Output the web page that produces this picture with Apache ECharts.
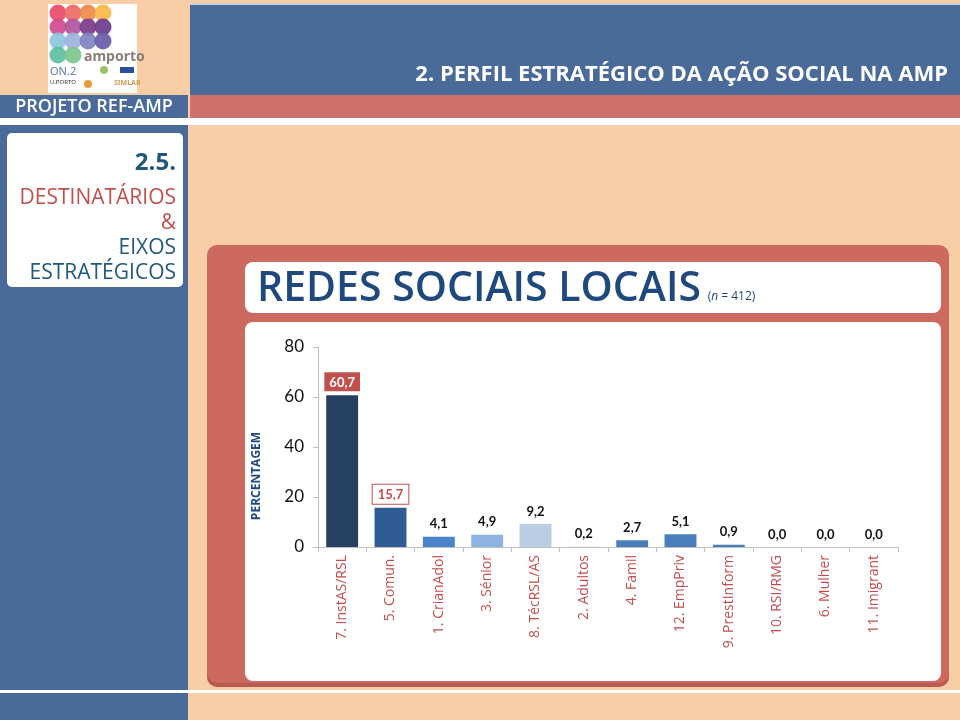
<!DOCTYPE html>
<html><head><meta charset="utf-8">
<script src="https://cdn.jsdelivr.net/npm/echarts@6/dist/echarts.min.js"></script>
<style>html,body{margin:0;padding:0;background:#F9CDA6}#c{width:960px;height:720px}</style>
</head><body><div id="c"></div>
<script>
const categories = ['7. InstAS/RSL','5. Comun.','1. CrianAdol','3. Sénior','8. TécRSL/AS','2. Adultos','4. Famil','12. EmpPriv','9. PrestInform','10. RSI/RMG','6. Mulher','11. Imigrant'];
const values = [60.7, 15.7, 4.1, 4.9, 9.2, 0.2, 2.7, 5.1, 0.9, 0.0, 0.0, 0.0];
const yTicks = [0, 20, 40, 60, 80];
const barColors = ['#243F60','#2F5D93','#4A85C9','#8DB3E2','#B9CDE5','#DCE6F2','#4A7EBB','#4A7EBB','#4A7EBB','#4A7EBB','#4A7EBB','#4A7EBB'];

const fmt = v => v.toFixed(1).replace('.', ',');
const BLUE = '#4A6B99', RED = '#CD716D', PEACH = '#F9CDA6';

const data = values.map((v, i) => {
  const d = { value: v, itemStyle: { color: barColors[i] } };
  if (i === 0) d.label = { backgroundColor: '#C0504D', color: '#fff', padding: [4, 5, 2, 5], distance: 4 };
  if (i === 1) d.label = { backgroundColor: '#fff', borderColor: '#C0504D', borderWidth: 1, color: '#C0504D', padding: [4, 5, 2, 5], distance: 4 };
  return d;
});

const circleColors = [
  ['#E84A6A','#EE6B63','#F08A4B','#F6B84A'],
  ['#D14A8E','#B0569E','#7C3A8B','#6A3C8C'],
  ['#8CC6DD','#9EB2DC','#7F82C0','#6A5BA8'],
  ['#5DBFA3','#7DC58A', null, null]
];
const logoEls = [];
logoEls.push({ type: 'rect', shape: { x: 48, y: 4, width: 89, height: 89 }, style: { fill: '#fff' }, z: 1 });
circleColors.forEach((row, r) => row.forEach((c, k) => {
  if (c) logoEls.push({ type: 'circle', shape: { cx: 58 + k * 15, cy: 13 + r * 14, r: 8.5 }, style: { fill: c, opacity: 0.92 }, z: 1 });
}));
logoEls.push({ type: 'text', style: { x: 84, y: 57, text: 'amporto', fill: '#8A7E78', font: 'bold 14px "Noto Sans"', textVerticalAlign: 'middle' }, z: 2 });
logoEls.push({ type: 'text', style: { x: 50, y: 72, text: 'ON.2', fill: '#5A7FA8', font: '11px "Noto Sans"', textVerticalAlign: 'middle' }, z: 2 });
logoEls.push({ type: 'circle', shape: { cx: 104, cy: 70, r: 4 }, style: { fill: '#9BC46A' }, z: 2 });
logoEls.push({ type: 'rect', shape: { x: 120, y: 67, width: 14, height: 6 }, style: { fill: '#2F4E9E' }, z: 2 });
logoEls.push({ type: 'text', style: { x: 50, y: 82, text: 'U.PORTO', fill: '#333', font: '6px "Noto Sans"', textVerticalAlign: 'middle' }, z: 2 });
logoEls.push({ type: 'circle', shape: { cx: 88, cy: 84, r: 4 }, style: { fill: '#E59A3A' }, z: 2 });
logoEls.push({ type: 'text', style: { x: 114, y: 83, text: 'SIMLAB', fill: '#C7A056', font: 'bold 7px "Noto Sans"', textVerticalAlign: 'middle' }, z: 2 });

const bg = [
  { type: 'rect', shape: { x: 0, y: 0, width: 960, height: 720 }, style: { fill: PEACH }, z: 0 },
  { type: 'rect', shape: { x: 190, y: 3, width: 770, height: 2 }, style: { fill: '#C9D3E0' }, z: 0 },
  { type: 'rect', shape: { x: 190, y: 5, width: 770, height: 90 }, style: { fill: BLUE }, z: 0 },
  { type: 'rect', shape: { x: 190, y: 95, width: 770, height: 23 }, style: { fill: RED }, z: 0 },
  { type: 'rect', shape: { x: 0, y: 95, width: 188, height: 23 }, style: { fill: BLUE }, z: 0 },
  { type: 'rect', shape: { x: 0, y: 118, width: 960, height: 7 }, style: { fill: '#fff' }, z: 0 },
  { type: 'rect', shape: { x: 0, y: 125, width: 188, height: 595 }, style: { fill: BLUE }, z: 0 },
  { type: 'rect', shape: { x: 0, y: 690, width: 960, height: 3 }, style: { fill: '#fff' }, z: 1 },
  { type: 'text', style: { x: 948, y: 75, text: '2. PERFIL ESTRATÉGICO DA AÇÃO SOCIAL NA AMP', fill: '#fff', font: 'bold 22px "Open Sans"', textAlign: 'right', textVerticalAlign: 'middle' }, z: 2 },
  { type: 'text', style: { x: 94, y: 107, text: 'PROJETO REF-AMP', fill: '#fff', font: '600 18px "Open Sans"', textAlign: 'center', textVerticalAlign: 'middle' }, z: 2 },
  { type: 'rect', shape: { x: 7, y: 133, width: 176, height: 154, r: 5 }, style: { fill: '#fff' }, z: 1 },
  { type: 'text', style: { x: 176, y: 163, text: '2.5.', fill: '#1F5878', font: 'bold 24px "Open Sans"', textAlign: 'right', textVerticalAlign: 'middle' }, z: 2 },
  { type: 'text', style: { x: 176, y: 198, text: 'DESTINATÁRIOS', fill: '#C0504D', font: '21px "Open Sans"', textAlign: 'right', textVerticalAlign: 'middle' }, z: 2 },
  { type: 'text', style: { x: 176, y: 223, text: '&', fill: '#C0504D', font: '21px "Open Sans"', textAlign: 'right', textVerticalAlign: 'middle' }, z: 2 },
  { type: 'text', style: { x: 176, y: 248, text: 'EIXOS', fill: '#1F5878', font: '21px "Open Sans"', textAlign: 'right', textVerticalAlign: 'middle' }, z: 2 },
  { type: 'text', style: { x: 176, y: 273, text: 'ESTRATÉGICOS', fill: '#1F5878', font: '21px "Open Sans"', textAlign: 'right', textVerticalAlign: 'middle' }, z: 2 },
  { type: 'rect', shape: { x: 207, y: 247, width: 742, height: 440, r: 10 }, style: { fill: '#B85A52' }, z: 1 },
  { type: 'rect', shape: { x: 207, y: 245, width: 742, height: 438, r: 10 }, style: { fill: '#CC6A60' }, z: 1 },
  { type: 'rect', shape: { x: 245, y: 262, width: 696, height: 51, r: 8 }, style: { fill: '#fff' }, z: 2 },
  { type: 'rect', shape: { x: 245, y: 322, width: 696, height: 359, r: 8 }, style: { fill: '#fff' }, z: 2 },
  { type: 'text', style: { x: 257, y: 289, text: '{a|REDES SOCIAIS LOCAIS}  {b|(}{i|n}{b| = 412)}', rich: {
      a: { fill: '#1F497D', font: '600 41px "Open Sans"' },
      b: { fill: '#1F497D', font: '12px "Open Sans"', padding: [16, 0, 0, 0] },
      i: { fill: '#1F497D', font: 'italic 12px "Open Sans"', padding: [16, 0, 0, 0] }
    }, textVerticalAlign: 'middle' }, z: 3 },
  { type: 'text', rotation: Math.PI / 2, x: 257, y: 476, style: { x: 0, y: 0, text: 'PERCENTAGEM', fill: '#1F497D', font: 'bold 12px "Open Sans"', textAlign: 'center', textVerticalAlign: 'middle' }, z: 3 }
].concat(logoEls);

const chart = echarts.init(document.getElementById('c'));
chart.setOption({
  backgroundColor: PEACH,
  animation: false,
  graphic: { elements: bg },
  grid: { left: 318, right: 62, top: 347, bottom: 173, containLabel: false, z: 5 },
  xAxis: {
    type: 'category', data: categories, z: 5,
    axisLine: { lineStyle: { color: '#BFBFBF' } },
    axisTick: { show: true, length: 5, lineStyle: { color: '#BFBFBF' } },
    axisLabel: { rotate: 90, color: '#C0504D', fontFamily: 'Open Sans', fontSize: 14, margin: 8, interval: 0 }
  },
  yAxis: {
    type: 'value', min: yTicks[0], max: yTicks[yTicks.length - 1], interval: 20, z: 5,
    axisLine: { show: true, lineStyle: { color: '#BFBFBF' } },
    axisTick: { show: true, length: 5, lineStyle: { color: '#BFBFBF' } },
    splitLine: { show: false },
    axisLabel: { color: '#111', fontFamily: 'Lato', fontSize: 17, margin: 14 }
  },
  series: [{
    type: 'bar', data: data, barCategoryGap: '34%', z: 6,
    label: { show: true, position: 'top', distance: 6, color: '#111', fontFamily: 'Lato', fontWeight: 'bold', fontSize: 13, formatter: p => fmt(p.value) }
  }]
});
</script></body></html>
